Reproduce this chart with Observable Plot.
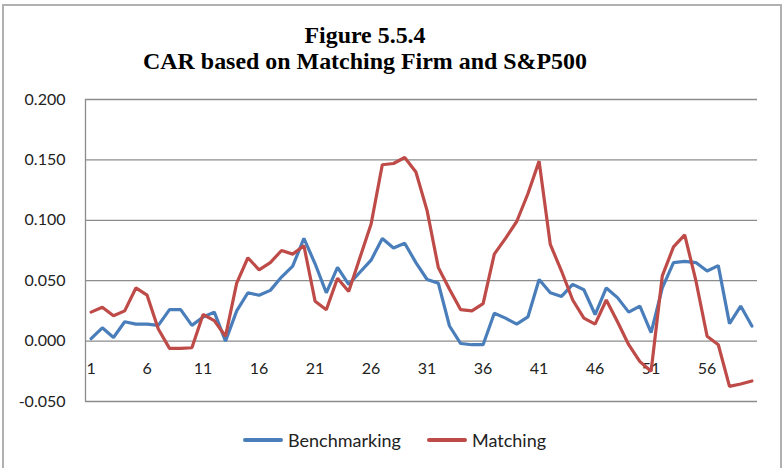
<!DOCTYPE html>
<html>
<head>
<meta charset="utf-8">
<script src="https://cdn.jsdelivr.net/npm/d3@7"></script>
<script src="https://cdn.jsdelivr.net/npm/@observablehq/plot@0.6"></script>
<style>
  html, body { margin: 0; padding: 0; background: #fff; }
  #wrap { position: relative; width: 783px; height: 468px; overflow: hidden; background: #fff; }
  #frame { position: absolute; left: 2px; top: 4px; width: 780px; height: 480px; border: 2px solid #b0b0b0; box-sizing: border-box; }
  .title { position: absolute; left: 0; top: 23px; width: 730px; text-align: center; font-family: "Liberation Serif", "Times New Roman", serif; font-weight: bold; font-size: 23px; line-height: 26px; color: #000; transform: scaleX(1.04); transform-origin: 365px 50%; white-space: nowrap; }
  #chart { position: absolute; left: 0; top: 0; }
  .leg { position: absolute; top: 428px; font-family: Lato, "Open Sans", sans-serif; font-size: 18px; color: #222; line-height: 24px; }
  .sw { position: absolute; height: 4px; border-radius: 2px; top: 438px; }
</style>
</head>
<body>
<div id="wrap">
  <div id="frame"></div>
  <div id="chart"></div>
  <div class="title">Figure 5.5.4<br>CAR based on Matching Firm and S&amp;P500</div>
  <div class="sw" style="left:243px;width:40px;background:#4a7ebb"></div>
  <div class="leg" style="left:288px">Benchmarking</div>
  <div class="sw" style="left:427px;width:40px;background:#be4b48"></div>
  <div class="leg" style="left:472px">Matching</div>
</div>
<script>
const days = [1,2,3,4,5,6,7,8,9,10,11,12,13,14,15,16,17,18,19,20,21,22,23,24,25,26,27,28,29,30,31,32,33,34,35,36,37,38,39,40,41,42,43,44,45,46,47,48,49,50,51,52,53,54,55,56,57,58,59,60];
const benchmarking = [0.002,0.011,0.003,0.016,0.014,0.014,0.013,0.026,0.026,0.013,0.020,0.024,0.000,0.025,0.040,0.038,0.042,0.053,0.062,0.085,0.064,0.040,0.061,0.047,0.057,0.067,0.085,0.077,0.081,0.065,0.051,0.048,0.0125,-0.002,-0.003,-0.003,0.023,0.019,0.014,0.020,0.051,0.040,0.037,0.047,0.0425,0.022,0.044,0.036,0.024,0.029,0.007,0.044,0.065,0.066,0.065,0.058,0.0625,0.0145,0.029,0.0125];
const matching = [0.024,0.028,0.021,0.025,0.044,0.038,0.010,-0.006,-0.006,-0.0055,0.022,0.017,0.004,0.048,0.069,0.059,0.065,0.075,0.072,0.079,0.033,0.026,0.052,0.041,0.069,0.097,0.146,0.147,0.152,0.140,0.108,0.061,0.043,0.026,0.025,0.031,0.072,0.085,0.099,0.122,0.149,0.080,0.058,0.034,0.019,0.014,0.034,0.016,-0.003,-0.017,-0.025,0.054,0.078,0.088,0.050,0.004,-0.003,-0.0375,-0.0355,-0.033];
const yTicks = [-0.05, 0, 0.05, 0.1, 0.15, 0.2];
const xTickLabels = [1, 6, 11, 16, 21, 26, 31, 36, 41, 46, 51, 56];
const seriesNames = ["Benchmarking", "Matching"];
const seriesColors = ["#4a7ebb", "#be4b48"];

const rows = [];
days.forEach((d, i) => {
  rows.push({day: d, value: benchmarking[i], series: seriesNames[0]});
  rows.push({day: d, value: matching[i], series: seriesNames[1]});
});

const chart = Plot.plot({
  width: 783,
  height: 468,
  marginTop: 99,
  marginBottom: 67,
  marginLeft: 85,
  marginRight: 26,
  style: {background: "transparent", fontFamily: "Lato, 'Open Sans', sans-serif"},
  x: {domain: [0.5, 60.5], axis: null},
  y: {domain: [-0.05, 0.2], axis: null},
  color: {domain: seriesNames, range: seriesColors},
  marks: [
    Plot.ruleY(yTicks, {stroke: "#8c8c8c", strokeWidth: 1.3}),
    Plot.ruleX([0.5], {y1: -0.05, y2: 0.2, stroke: "#8c8c8c", strokeWidth: 1.3}),
    Plot.text(yTicks, {x: 0.5, y: d => d, text: d => d.toFixed(3), textAnchor: "end", dx: -20, fontSize: 16, fill: "#222"}),
    Plot.text(xTickLabels, {x: d => d, y: 0, text: d => String(d), dy: 28, fontSize: 16, fill: "#222"}),
    Plot.line(rows, {x: "day", y: "value", z: "series", stroke: "series", strokeWidth: 3.2, strokeLinejoin: "miter", curve: "linear"})
  ]
});
document.getElementById("chart").appendChild(chart);
</script>
</body>
</html>
